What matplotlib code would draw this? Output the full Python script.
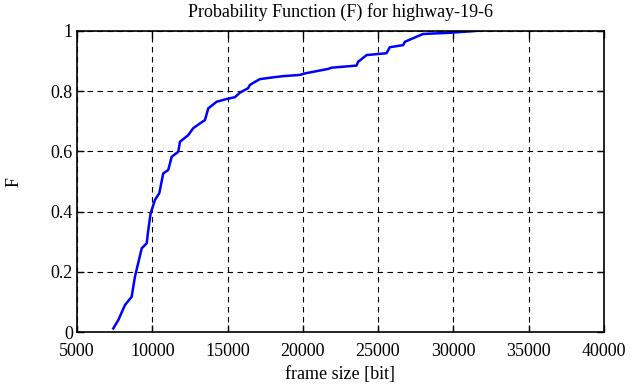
import matplotlib
matplotlib.use('Agg')
import matplotlib.pyplot as plt
import numpy as np

# values
frame_size = [7410, 7745, 8190, 8630, 8850, 9300, 9630, 9735, 9890, 10180,
              10465, 10730, 11060, 11290, 11730, 11840, 12390, 12720, 13170, 13500,
              13720, 14280, 14940, 15490, 15820, 16370, 16490, 16930, 17150, 18030,
              18700, 19810, 20140, 21690, 21910, 23570, 23680, 24120, 24240, 25560,
              25780, 26670, 26780, 27330, 27990, 29770, 31500]
prob = [0.012, 0.04, 0.09, 0.117, 0.184, 0.278, 0.295, 0.339, 0.394, 0.439,
        0.461, 0.527, 0.538, 0.582, 0.599, 0.632, 0.654, 0.677, 0.693, 0.704,
        0.743, 0.765, 0.774, 0.780, 0.795, 0.810, 0.821, 0.834, 0.840, 0.846,
        0.850, 0.854, 0.859, 0.874, 0.878, 0.885, 0.898, 0.915, 0.920, 0.926,
        0.946, 0.953, 0.964, 0.976, 0.990, 0.994, 1.0]

x_ticks = [5000, 10000, 15000, 20000, 25000, 30000, 35000, 40000]
y_ticks = [0, 0.2, 0.4, 0.6, 0.8, 1]
y_tick_labels = ['0', '0.2', '0.4', '0.6', '0.8', '1']

plt.rcParams['font.family'] = ['Liberation Serif', 'DejaVu Serif']
plt.rcParams['font.size'] = 13

fig = plt.figure(figsize=(6.39, 3.87), dpi=100)
ax = fig.add_axes([0.1205, 0.142, 0.8245, 0.778])

ax.plot(frame_size, prob, color='#0000ff', linewidth=1.8)

ax.set_xlim(5000, 40000)
ax.set_ylim(0, 1)
ax.set_xticks(x_ticks)
ax.set_yticks(y_ticks)
ax.set_yticklabels(y_tick_labels)
ax.tick_params(direction='in', top=True, right=True, length=5, width=1, pad=3)
ax.tick_params(axis='x', pad=8)
ax.grid(True, color='black', linestyle=(0, (5, 4)), linewidth=0.8)
for s in ax.spines.values():
    s.set_linewidth(1.2)

ax.set_title('Probability Function (F) for highway-19-6', fontsize=13, pad=10)
ax.set_xlabel('frame size [bit]', labelpad=4)
ax.set_ylabel('F', labelpad=20)

fig.savefig('out.png', dpi=100)
